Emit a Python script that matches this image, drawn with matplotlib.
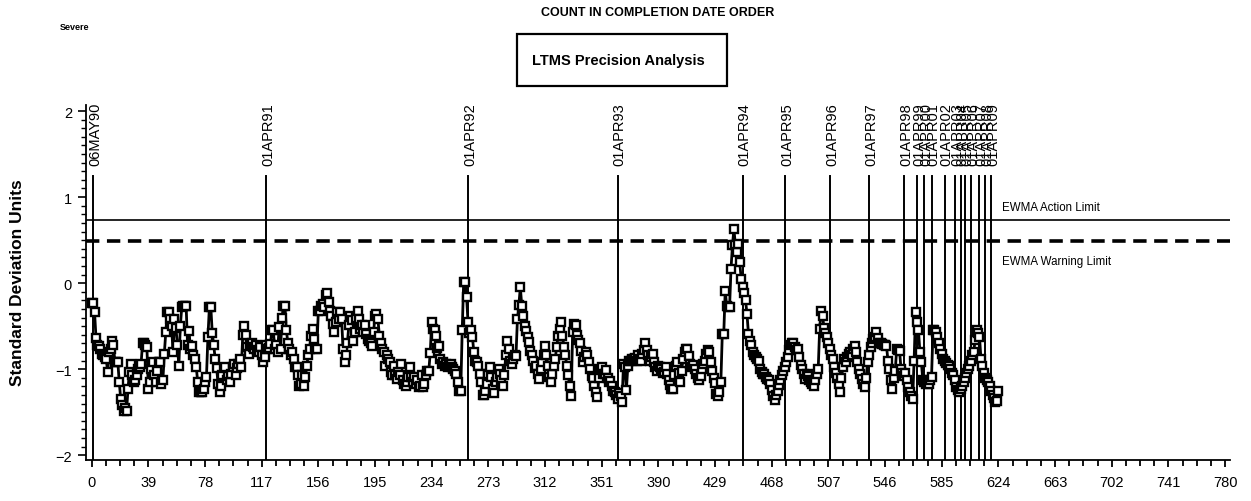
import matplotlib
matplotlib.use('Agg')
import matplotlib.pyplot as plt
from matplotlib.patches import Rectangle
from matplotlib.ticker import MultipleLocator

# EWMA of standardized results, one value per test in completion order
ewma = [
    -0.23, -0.23, -0.34, -0.64, -0.72, -0.73, -0.76, -0.82, -0.84, -0.86,
    -0.88, -1.03, -0.80, -0.76, -0.67, -0.72, -0.92, -0.92, -0.92, -1.15,
    -1.35, -1.42, -1.49, -1.45, -1.49, -1.23, -1.03, -0.94, -1.07, -1.15,
    -1.13, -1.07, -1.00, -0.98, -0.94, -0.70, -0.70, -0.72, -0.74, -1.23,
    -1.15, -1.00, -0.92, -1.07, -1.15, -1.02, -0.92, -0.92, -1.17, -1.13,
    -0.82, -0.57, -0.34, -0.34, -0.42, -0.50, -0.80, -0.42, -0.52, -0.72,
    -0.96, -0.50, -0.28, -0.26, -0.26, -0.26, -0.72, -0.56, -0.76, -0.73,
    -0.84, -0.88, -0.98, -1.15, -1.27, -1.27, -1.27, -1.23, -1.15, -1.09,
    -0.63, -0.28, -0.28, -0.58, -0.72, -0.88, -0.99, -1.17, -1.27, -1.20,
    -1.07, -0.99, -0.98, -1.13, -1.08, -1.15, -1.05, -0.98, -0.94, -1.07,
    -0.99, -0.94, -0.88, -0.98, -0.60, -0.50, -0.60, -0.74, -0.82, -0.72,
    -0.70, -0.74, -0.76, -0.72, -0.78, -0.80, -0.74, -0.84, -0.92, -0.86,
    -0.72, -0.76, -0.75, -0.71, -0.55, -0.55, -0.76, -0.72, -0.80, -0.51,
    -0.76, -0.40, -0.26, -0.26, -0.55, -0.69, -0.76, -0.84, -0.80, -0.88,
    -0.98, -0.98, -1.07, -1.19, -1.17, -1.07, -1.19, -1.09, -0.96, -0.84,
    -0.76, -0.61, -0.53, -0.65, -0.76, -0.76, -0.32, -0.32, -0.26, -0.24,
    -0.28, -0.14, -0.12, -0.22, -0.32, -0.38, -0.47, -0.57, -0.45, -0.34,
    -0.42, -0.34, -0.42, -0.76, -0.92, -0.84, -0.69, -0.49, -0.38, -0.43,
    -0.67, -0.57, -0.40, -0.32, -0.42, -0.53, -0.49, -0.57, -0.49, -0.59,
    -0.65, -0.67, -0.69, -0.73, -0.57, -0.38, -0.36, -0.42, -0.61, -0.69,
    -0.76, -0.80, -0.96, -0.84, -0.88, -0.92, -1.03, -1.07, -0.96, -1.07,
    -1.11, -1.03, -1.07, -0.94, -1.13, -1.17, -1.19, -1.15, -1.09, -0.98,
    -1.09, -1.15, -1.09, -1.17, -1.13, -1.21, -1.19, -1.07, -1.21, -1.17,
    -1.07, -1.02, -1.02, -0.81, -0.45, -0.53, -0.55, -0.61, -0.75, -0.73,
    -0.88, -0.94, -0.92, -0.96, -0.94, -0.98, -0.96, -0.94, -0.98, -1.00,
    -1.02, -1.05, -1.15, -1.25, -1.25, -0.55, 0.01, 0.01, -0.16, -0.45,
    -0.58, -0.55, -0.62, -0.80, -0.90, -0.92, -0.96, -1.05, -1.15, -1.30,
    -1.30, -1.25, -1.17, -1.05, -0.98, -1.09, -1.23, -1.28, -1.15, -1.09,
    -1.00, -1.05, -1.13, -1.19, -1.07, -0.83, -0.67, -0.76, -0.90, -0.94,
    -0.88, -0.83, -0.85, -0.42, -0.25, -0.05, -0.26, -0.38, -0.50, -0.56,
    -0.62, -0.68, -0.79, -0.84, -0.90, -0.99, -0.96, -1.05, -1.11, -1.00,
    -0.92, -0.84, -0.73, -0.84, -0.96, -1.09, -1.15, -1.05, -0.96, -0.88,
    -0.74, -0.61, -0.53, -0.45, -0.61, -0.74, -0.84, -0.96, -1.07, -1.20,
    -1.31, -0.57, -0.47, -0.49, -0.60, -0.66, -0.70, -0.79, -0.92, -0.86,
    -0.80, -0.84, -0.92, -1.00, -1.08, -1.10, -1.20, -1.27, -1.32, -1.10,
    -1.00, -0.98, -1.05, -1.05, -1.01, -1.10, -1.15, -1.14, -1.20, -1.25,
    -1.27, -1.30, -1.35, -1.28, -1.31, -1.38, -0.94, -0.98, -1.24, -0.96,
    -0.90, -0.90, -0.88, -0.88, -0.87, -0.90, -0.84, -0.88, -0.90, -0.82,
    -0.78, -0.69, -0.78, -0.84, -0.90, -0.86, -0.82, -0.92, -0.98, -1.02,
    -0.96, -0.98, -1.00, -1.04, -1.03, -0.98, -1.06, -1.12, -1.18, -1.23,
    -1.23, -1.07, -0.96, -0.92, -1.04, -1.15, -1.02, -0.88, -0.80, -0.76,
    -0.76, -0.85, -0.94, -0.98, -0.95, -1.00, -1.06, -1.10, -1.12, -1.08,
    -1.00, -0.94, -0.90, -0.82, -0.78, -0.80, -0.92, -1.02, -1.10, -1.16,
    -1.29, -1.31, -1.27, -1.15, -0.59, -0.59, -0.09, -0.26, -0.28, -0.28,
    0.17, 0.44, 0.63, 0.44, 0.36, 0.46, 0.24, 0.05, -0.05, -0.12,
    -0.20, -0.36, -0.59, -0.67, -0.72, -0.80, -0.83, -0.86, -0.88, -0.90,
    -1.00, -1.03, -1.05, -1.06, -1.09, -1.11, -1.13, -1.17, -1.24, -1.31,
    -1.36, -1.30, -1.25, -1.18, -1.12, -1.07, -1.02, -0.98, -0.92, -0.86,
    -0.78, -0.72, -0.69, -0.70, -0.74, -0.78, -0.76, -0.86, -0.95, -1.00,
    -1.06, -1.11, -1.05, -1.08, -1.12, -1.15, -1.17, -1.19, -1.12, -1.06,
    -1.00, -0.53, -0.32, -0.38, -0.52, -0.58, -0.62, -0.70, -0.76, -0.83,
    -0.88, -0.98, -1.04, -1.10, -1.17, -1.27, -1.10, -0.98, -0.88, -0.92,
    -0.86, -0.82, -0.80, -0.84, -0.76, -0.73, -0.80, -0.92, -1.00, -1.06,
    -1.11, -1.17, -1.21, -1.10, -0.92, -0.84, -0.74, -0.70, -0.65, -0.62,
    -0.57, -0.64, -0.69, -0.70, -0.71, -0.72, -0.72, -0.73, -0.90, -1.00,
    -1.13, -1.23, -1.10, -1.02, -0.77, -0.78, -0.79, -1.00, -1.04, -1.08,
    -1.04, -1.12, -1.21, -1.27, -1.31, -1.35, -0.90, -0.34, -0.45, -0.55,
    -0.80, -0.92, -1.13, -1.15, -1.17, -1.16, -1.17, -1.12, -1.09, -0.55,
    -0.55, -0.57, -0.62, -0.70, -0.77, -0.82, -0.88, -0.90, -0.93, -0.95,
    -0.96, -1.00, -1.04, -1.07, -1.12, -1.21, -1.24, -1.27, -1.23, -1.19,
    -1.15, -1.10, -1.04, -1.00, -0.96, -0.90, -0.84, -0.80, -0.66, -0.55,
    -0.58, -0.62, -0.88, -0.96, -1.04, -1.10, -1.13, -1.15, -1.20, -1.25,
    -1.30, -1.34, -1.38, -1.37, -1.25,
]

action_limit = 0.73
warning_limit = 0.49

# test counts at which each reference period starts
date_labels = ['06MAY90', '01APR91', '01APR92', '01APR93', '01APR94', '01APR95',
               '01APR96', '01APR97', '01APR98', '01APR99', '01APR00', '01APR01',
               '01APR02', '01APR03', '01APR04', '01APR05', '01APR06', '01APR07',
               '01APR08', '01APR09']
date_counts = [1, 120, 259, 362, 448, 477, 508, 535, 559, 568, 573, 578,
               587, 594, 598, 601, 605, 611, 615, 619]

SANS = ['Liberation Sans', 'DejaVu Sans']

fig = plt.figure(figsize=(12.51, 5.02), dpi=100)
ax = fig.add_axes([86 / 1251, 41 / 502, 1144 / 1251, 355 / 502])

counts = list(range(len(ewma)))
ax.plot(counts, ewma, color='black', linewidth=2.0, marker='s', markersize=6,
        markerfacecolor='white', markeredgecolor='black', markeredgewidth=1.7,
        zorder=3)

ax.axhline(action_limit, color='black', linewidth=1.2, zorder=2)
ax.axhline(warning_limit, color='black', linewidth=2.6, dashes=(3.7, 2.1), zorder=2)

for cnt, lab in zip(date_counts, date_labels):
    ax.plot([cnt, cnt], [-2.06, 1.25], color='black', linewidth=1.4, zorder=2)
    ax.text(cnt + 1.5, 1.37, lab, rotation=90, ha='center', va='bottom',
            fontsize=10.5, family=SANS)

fig.text(1002 / 1251, 1 - 208 / 502, 'EWMA Action Limit', fontsize=8.3,
         family=SANS, va='center')
fig.text(1002 / 1251, 1 - 262 / 502, 'EWMA Warning Limit', fontsize=8.3,
         family=SANS, va='center')

ax.set_xlim(-3.9, 783.4)
ax.set_ylim(-2.055, 2.07)
ax.xaxis.set_major_locator(MultipleLocator(39))
ax.xaxis.set_minor_locator(MultipleLocator(9.75))
ax.yaxis.set_major_locator(MultipleLocator(1))
ax.yaxis.set_minor_locator(MultipleLocator(0.1))
ax.spines['top'].set_visible(False)
ax.spines['right'].set_visible(False)
ax.spines['left'].set_linewidth(1.3)
ax.spines['bottom'].set_linewidth(1.3)
ax.tick_params(axis='x', which='major', length=5, width=1.3, pad=6)
ax.tick_params(axis='x', which='minor', length=4, width=1.3)
ax.tick_params(axis='y', which='major', length=6, width=1.2, pad=4)
ax.tick_params(axis='y', which='minor', length=3.5, width=1.0)
for lbl in ax.get_xticklabels() + ax.get_yticklabels():
    lbl.set_fontsize(10.5)
    lbl.set_family(SANS)

fig.text(18 / 1251, 1 - 283 / 502, 'Standard Deviation Units', rotation=90,
         ha='center', va='center', fontsize=12.5, fontweight='bold', family=SANS)

fig.text(658 / 1251, 1 - 13 / 502, 'COUNT IN COMPLETION DATE ORDER',
         ha='center', va='center', fontsize=9, fontweight='bold', family=SANS)
fig.text(60 / 1251, 1 - 28 / 502, 'Severe', ha='left', va='center',
         fontsize=6.5, fontweight='bold', family=SANS)

fig.add_artist(Rectangle((517 / 1251, 1 - 87 / 502), 210 / 1251, 52 / 502,
                         transform=fig.transFigure, fill=False,
                         edgecolor='black', linewidth=1.6))
fig.text(618 / 1251, 1 - 61 / 502, 'LTMS Precision Analysis', ha='center',
         va='center', fontsize=10.5, fontweight='bold', family=SANS)

fig.savefig('out.png', dpi=100)
